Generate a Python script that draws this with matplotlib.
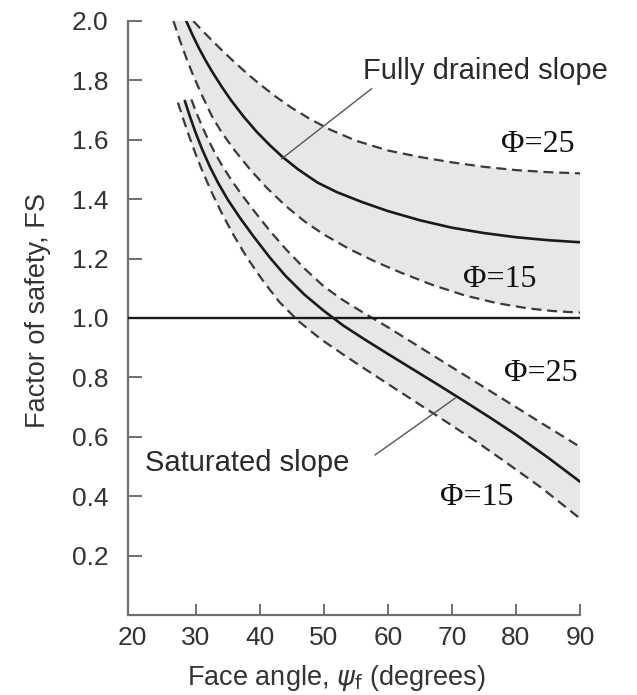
import matplotlib
matplotlib.use("Agg")
import matplotlib.pyplot as plt

# ---------------- data ----------------
# Fully drained slope
drained_p25_x = [29.6, 31.0, 32.5, 34.0, 36.0, 38.0, 40.0, 42.5, 45.0, 48.0, 51.0, 55.0, 60.0, 65.0, 70.0, 75.0, 80.0, 85.0, 90.0]
drained_p25_y = [2.0, 1.968, 1.935, 1.903, 1.862, 1.823, 1.787, 1.745, 1.707, 1.668, 1.634, 1.597, 1.564, 1.542, 1.524, 1.509, 1.498, 1.491, 1.487]

drained_mid_x = [28.5, 29.5, 30.5, 31.5, 32.5, 34.0, 35.5, 37.5, 39.5, 41.5, 43.5, 46.0, 49.0, 52.0, 56.0, 60.0, 65.0, 70.0, 75.0, 80.0, 85.0, 90.0]
drained_mid_y = [2.0, 1.952, 1.908, 1.868, 1.831, 1.78, 1.733, 1.677, 1.627, 1.583, 1.543, 1.5, 1.456, 1.424, 1.39, 1.36, 1.329, 1.304, 1.286, 1.272, 1.262, 1.255]

drained_p15_x = [26.5, 27.5, 28.5, 29.6, 31.0, 32.5, 34.0, 36.0, 38.4, 41.0, 44.0, 47.0, 50.0, 54.0, 58.0, 62.0, 67.0, 72.0, 77.0, 82.0, 86.0, 90.0]
drained_p15_y = [2.0, 1.935, 1.876, 1.816, 1.748, 1.68, 1.626, 1.566, 1.502, 1.44, 1.378, 1.325, 1.281, 1.232, 1.19, 1.153, 1.111, 1.076, 1.05, 1.032, 1.023, 1.018]

# Saturated slope
sat_p25_x = [29.3, 30.0, 31.0, 32.0, 33.0, 34.0, 35.5, 37.0, 39.0, 41.5, 44.0, 47.0, 50.0, 53.0, 56.0, 60.0, 64.0, 68.0, 73.0, 78.5, 84.0, 90.0]
sat_p25_y = [1.736, 1.696, 1.644, 1.597, 1.555, 1.517, 1.466, 1.42, 1.363, 1.295, 1.233, 1.166, 1.106, 1.06, 1.02, 0.969, 0.915, 0.861, 0.794, 0.72, 0.646, 0.566]

sat_mid_x = [28.3, 29.0, 30.0, 31.0, 32.2, 33.5, 35.0, 37.0, 39.0, 41.5, 44.0, 47.0, 50.0, 53.0, 56.5, 60.0, 64.0, 68.0, 72.0, 76.0, 80.0, 85.0, 90.0]
sat_mid_y = [1.73, 1.683, 1.622, 1.567, 1.509, 1.454, 1.398, 1.334, 1.275, 1.205, 1.142, 1.078, 1.024, 0.975, 0.926, 0.879, 0.826, 0.773, 0.719, 0.664, 0.607, 0.53, 0.449]

sat_p15_x = [27.2, 28.0, 29.0, 30.0, 31.0, 32.5, 34.0, 36.0, 38.0, 40.5, 43.0, 46.0, 49.5, 53.5, 57.5, 61.5, 65.5, 69.5, 74.0, 78.5, 84.0, 90.0]
sat_p15_y = [1.725, 1.672, 1.609, 1.55, 1.496, 1.422, 1.355, 1.275, 1.203, 1.125, 1.055, 0.99, 0.929, 0.87, 0.813, 0.757, 0.701, 0.645, 0.581, 0.513, 0.428, 0.325]

fs_limit = 1.0
x_ticks = [20, 30, 40, 50, 60, 70, 80, 90]
y_ticks = [0.2, 0.4, 0.6, 0.8, 1.0, 1.2, 1.4, 1.6, 1.8, 2.0]

# ---------------- figure ----------------
fig = plt.figure(figsize=(6.37, 6.95), dpi=100)
ax = fig.add_axes([0.2009, 0.1151, 0.7096, 0.8547])

fill_col = "#e6e7e8"
dash_col = "#3a3a3a"
ax.fill(drained_p25_x + drained_p15_x[::-1], drained_p25_y + drained_p15_y[::-1],
        color=fill_col, lw=0, zorder=1)
ax.fill(sat_p25_x + sat_p15_x[::-1], sat_p25_y + sat_p15_y[::-1],
        color=fill_col, lw=0, zorder=1)

dash_kw = dict(color=dash_col, lw=1.6, dashes=(4.5, 2.6), zorder=3,
               solid_joinstyle="round", dash_joinstyle="round")
solid_kw = dict(color="#1a1a1a", lw=1.9, zorder=3, solid_joinstyle="round")
ax.plot(drained_p25_x, drained_p25_y, **dash_kw)
ax.plot(drained_p15_x, drained_p15_y, **dash_kw)
ax.plot(drained_mid_x, drained_mid_y, **solid_kw)
ax.plot(sat_p25_x, sat_p25_y, **dash_kw)
ax.plot(sat_p15_x, sat_p15_y, **dash_kw)
ax.plot(sat_mid_x, sat_mid_y, **solid_kw)

ax.axhline(fs_limit, color="#1a1a1a", lw=1.7, zorder=4)

# leader lines
ax.plot([57.45, 43.4], [1.772, 1.536], color="#555555", lw=1.0, zorder=5)
ax.plot([58.0, 70.5], [0.539, 0.730], color="#555555", lw=1.0, zorder=5)

sans = "Liberation Sans"
serif = "Liberation Serif"
ax.text(56.1, 1.83, "Fully drained slope", fontsize=21, family=sans,
        color="#2a2a2a", ha="left", va="center")
ax.text(22.0, 0.512, "Saturated slope", fontsize=21, family=sans,
        color="#2a2a2a", ha="left", va="center")

phi_kw = dict(fontsize=23, family=serif, color="#111111", ha="left", va="center")
ax.text(77.6, 1.584, "\u03a6=25", **phi_kw)
ax.text(71.8, 1.129, "\u03a6=15", **phi_kw)
ax.text(78.1, 0.812, "\u03a6=25", **phi_kw)
ax.text(68.2, 0.394, "\u03a6=15", **phi_kw)

ax.set_xlim(19.4, 90)
ax.set_ylim(0, 2.0)
ax.set_xticks(x_ticks)
ax.set_yticks(y_ticks)
ax.set_xticklabels([str(v) for v in x_ticks])
ax.set_yticklabels([f"{v:.1f}" for v in y_ticks])
for s in ("top", "right"):
    ax.spines[s].set_visible(False)
for s in ("left", "bottom"):
    ax.spines[s].set_color("#707070")
    ax.spines[s].set_linewidth(1.6)
ax.tick_params(axis="y", direction="in", length=10, width=1.4, color="#707070",
               labelsize=19, labelcolor="#333333", pad=14)
ax.tick_params(axis="x", direction="in", length=8, width=1.4, color="#707070",
               labelsize=19, labelcolor="#333333", pad=8)
for lab in ax.get_xticklabels() + ax.get_yticklabels():
    lab.set_family(sans)
ax.xaxis.get_major_ticks()[0].tick1line.set_visible(False)

fig.text(38 / 637, 1 - 310 / 695, "Factor of safety, FS", rotation=90, fontsize=19.5,
         family=sans, color="#333333", ha="center", va="center")
fig.text(336 / 637, 1 - 678 / 695, r"Face angle, $\psi_\mathrm{f}$ (degrees)", fontsize=19.5,
         family=sans, color="#333333", ha="center", va="center")

fig.savefig("out.png", dpi=100)
